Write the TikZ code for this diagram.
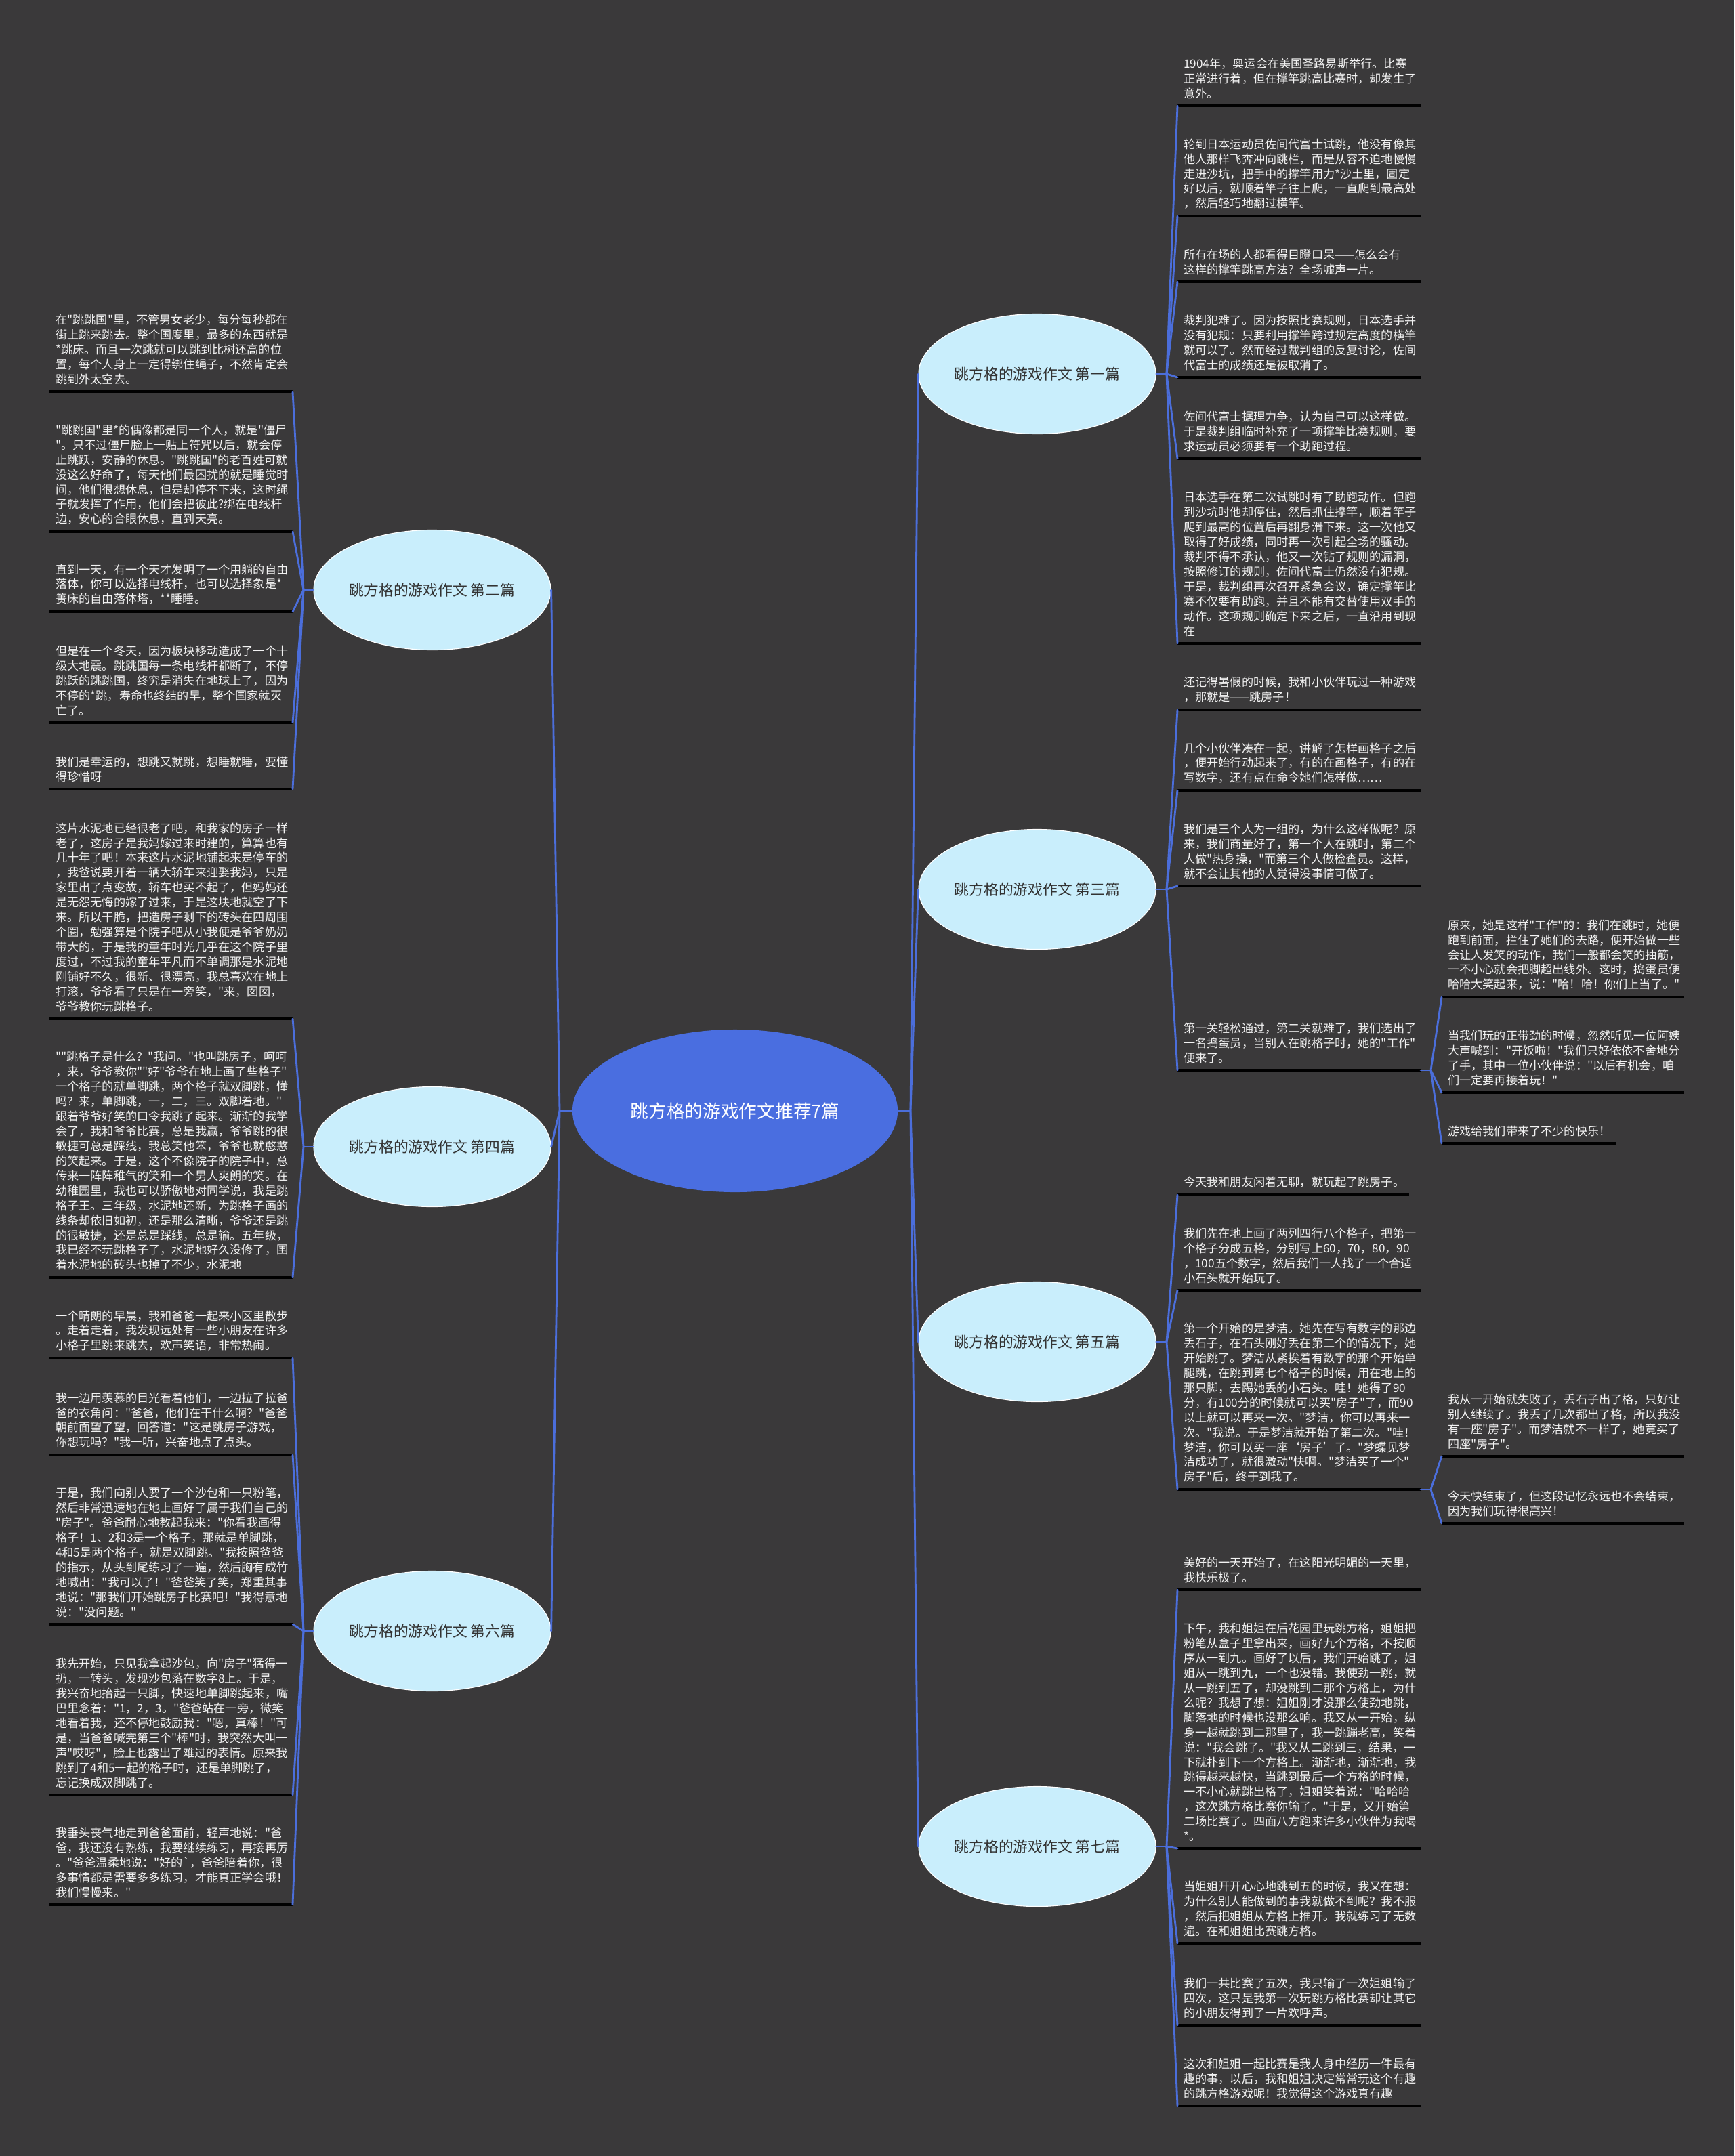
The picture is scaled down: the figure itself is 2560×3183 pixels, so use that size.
\documentclass[tikz,border=0pt]{standalone}
\usepackage{fontspec}
\setmainfont{Noto Sans CJK SC}[Ligatures=TeXOff]
\usetikzlibrary{shapes.geometric}
\definecolor{bgcol}{HTML}{3A393A}
\definecolor{conncol}{HTML}{4B6EDB}
\definecolor{rootfill}{HTML}{4A6EE0}
\definecolor{brfill}{HTML}{C9EEFC}
\definecolor{brtext}{HTML}{333333}
\definecolor{leaftxt}{HTML}{F2F2F2}
\tikzset{
  link/.style={draw=conncol, line width=2pt, line join=round, line cap=round},
  uline/.style={draw=black, line width=2.2pt},
  leaftext/.style={anchor=south west, inner sep=0pt, align=left, text=leaftxt, font=\fontsize{12.2}{15.6}\selectfont},
  rootnode/.style={ellipse, fill=rootfill, minimum width=12cm, minimum height=6cm, inner sep=0pt, text=white, font=\fontsize{19}{22}\selectfont},
  branch/.style={ellipse, fill=brfill, draw=white, line width=0.8pt, minimum width=8.75cm, minimum height=4.425cm, inner sep=0pt, text=brtext, font=\fontsize{15.5}{18}\selectfont},
}
% #1 name, #2 x start, #3 x end, #4 underline y, #5 text
\newcommand\mmleaf[5]{%
  \coordinate (#1-s) at (#2,#4);
  \coordinate (#1-e) at (#3,#4);
  \draw[uline] (#1-s) -- (#1-e);
  \node[leaftext] (#1) at ({#2+9},{#4-10}) {#5};
}
\begin{document}
\begin{tikzpicture}[x=0.025cm, y=-0.025cm]
\fill[bgcol] (0,0) rectangle (2560,3183);
\useasboundingbox (0,0) rectangle (2560,3183);

% central and branch nodes
\node[rootnode] (root) at (1085,1640) {跳方格的游戏作文推荐7篇};
\node[branch] (b1) at (1531,552) {跳方格的游戏作文 第一篇};
\node[branch] (b2) at (638,871) {跳方格的游戏作文 第二篇};
\node[branch] (b3) at (1531,1313) {跳方格的游戏作文 第三篇};
\node[branch] (b4) at (638,1693) {跳方格的游戏作文 第四篇};
\node[branch] (b5) at (1531,1981) {跳方格的游戏作文 第五篇};
\node[branch] (b6) at (638,2408) {跳方格的游戏作文 第六篇};
\node[branch] (b7) at (1531,2726) {跳方格的游戏作文 第七篇};

% junctions
\coordinate (lj) at (826,1640);
\coordinate (rj) at (1344,1640);
\coordinate (b1j) at (1722,552);
\coordinate (b3j) at (1722,1313);
\coordinate (b5j) at (1722,1981);
\coordinate (b7j) at (1722,2726);
\coordinate (b2j) at (448,871);
\coordinate (b4j) at (448,1693);
\coordinate (b6j) at (448,2408);
\coordinate (f3j) at (2112,1580);
\coordinate (f5j) at (2112,2199);

% ---- 第一篇
\mmleaf{r11}{1738}{2097}{156}{1904年，奥运会在美国圣路易斯举行。比赛\\正常进行着，但在撑竿跳高比赛时，却发生了\\意外。}
\mmleaf{r12}{1738}{2097}{319}{轮到日本运动员佐间代富士试跳，他没有像其\\他人那样飞奔冲向跳栏，而是从容不迫地慢慢\\走进沙坑，把手中的撑竿用力*沙土里，固定\\好以后，就顺着竿子往上爬，一直爬到最高处\\，然后轻巧地翻过横竿。}
\mmleaf{r13}{1738}{2097}{416}{所有在场的人都看得目瞪口呆——怎么会有\\这样的撑竿跳高方法？全场嘘声一片。}
\mmleaf{r14}{1738}{2097}{557}{裁判犯难了。因为按照比赛规则，日本选手并\\没有犯规：只要利用撑竿跨过规定高度的横竿\\就可以了。然而经过裁判组的反复讨论，佐间\\代富士的成绩还是被取消了。}
\mmleaf{r15}{1738}{2097}{677}{佐间代富士据理力争，认为自己可以这样做。\\于是裁判组临时补充了一项撑竿比赛规则，要\\求运动员必须要有一个助跑过程。}
\mmleaf{r16}{1738}{2097}{950}{日本选手在第二次试跳时有了助跑动作。但跑\\到沙坑时他却停住，然后抓住撑竿，顺着竿子\\爬到最高的位置后再翻身滑下来。这一次他又\\取得了好成绩，同时再一次引起全场的骚动。\\裁判不得不承认，他又一次钻了规则的漏洞，\\按照修订的规则，佐间代富士仍然没有犯规。\\于是，裁判组再次召开紧急会议，确定撑竿比\\赛不仅要有助跑，并且不能有交替使用双手的\\动作。这项规则确定下来之后，一直沿用到现\\在}

% ---- 第三篇
\mmleaf{r31}{1738}{2097}{1048}{还记得暑假的时候，我和小伙伴玩过一种游戏\\，那就是——跳房子！}
\mmleaf{r32}{1738}{2097}{1167}{几个小伙伴凑在一起，讲解了怎样画格子之后\\，便开始行动起来了，有的在画格子，有的在\\写数字，还有点在命令她们怎样做……}
\mmleaf{r33}{1738}{2097}{1308}{我们是三个人为一组的，为什么这样做呢？原\\来，我们商量好了，第一个人在跳时，第二个\\人做"热身操，"而第三个人做检查员。这样，\\就不会让其他的人觉得没事情可做了。}
\mmleaf{r34}{1738}{2097}{1580}{第一关轻松通过，第二关就难了，我们选出了\\一名捣蛋员，当别人在跳格子时，她的"工作"\\便来了。}
\mmleaf{f31}{2128}{2486}{1472}{原来，她是这样"工作"的：我们在跳时，她便\\跑到前面，拦住了她们的去路，便开始做一些\\会让人发笑的动作，我们一般都会笑的抽筋，\\一不小心就会把脚超出线外。这时，捣蛋员便\\哈哈大笑起来，说："哈！哈！你们上当了。"}
\mmleaf{f32}{2128}{2486}{1613}{当我们玩的正带劲的时候，忽然听见一位阿姨\\大声喊到："开饭啦！"我们只好依依不舍地分\\了手，其中一位小伙伴说："以后有机会，咱\\们一定要再接着玩！"}
\mmleaf{f33}{2128}{2385}{1688}{游戏给我们带来了不少的快乐！}

% ---- 第五篇
\mmleaf{r51}{1738}{2080}{1764}{今天我和朋友闲着无聊，就玩起了跳房子。}
\mmleaf{r52}{1738}{2097}{1905}{我们先在地上画了两列四行八个格子，把第一\\个格子分成五格，分别写上60，70，80，90\\，100五个数字，然后我们一人找了一个合适\\小石头就开始玩了。}
\mmleaf{r53}{1738}{2097}{2199}{第一个开始的是梦洁。她先在写有数字的那边\\丢石子，在石头刚好丢在第二个的情况下，她\\开始跳了。梦洁从紧挨着有数字的那个开始单\\腿跳，在跳到第七个格子的时候，用在地上的\\那只脚，去踢她丢的小石头。哇！她得了90\\分，有100分的时候就可以买"房子"了，而90\\以上就可以再来一次。"梦洁，你可以再来一\\次。"我说。于是梦洁就开始了第二次。"哇！\\梦洁，你可以买一座‘房子’了。"梦蝶见梦\\洁成功了，就很激动"快啊。"梦洁买了一个"\\房子"后，终于到我了。}
\mmleaf{f51}{2128}{2486}{2150}{我从一开始就失败了，丢石子出了格，只好让\\别人继续了。我丢了几次都出了格，所以我没\\有一座"房子"。而梦洁就不一样了，她竟买了\\四座"房子"。}
\mmleaf{f52}{2128}{2486}{2249}{今天快结束了，但这段记忆永远也不会结束，\\因为我们玩得很高兴！}

% ---- 第七篇
\mmleaf{r71}{1738}{2097}{2347}{美好的一天开始了，在这阳光明媚的一天里，\\我快乐极了。}
\mmleaf{r72}{1738}{2097}{2729}{下午，我和姐姐在后花园里玩跳方格，姐姐把\\粉笔从盒子里拿出来，画好九个方格，不按顺\\序从一到九。画好了以后，我们开始跳了，姐\\姐从一跳到九，一个也没错。我使劲一跳，就\\从一跳到五了，却没跳到二那个方格上，为什\\么呢？我想了想：姐姐刚才没那么使劲地跳，\\脚落地的时候也没那么响。我又从一开始，纵\\身一越就跳到二那里了，我一跳蹦老高，笑着\\说："我会跳了。"我又从二跳到三，结果，一\\下就扑到下一个方格上。渐渐地，渐渐地，我\\跳得越来越快，当跳到最后一个方格的时候，\\一不小心就跳出格了，姐姐笑着说："哈哈哈\\，这次跳方格比赛你输了。"于是，又开始第\\二场比赛了。四面八方跑来许多小伙伴为我喝\\{}*。}
\mmleaf{r73}{1738}{2097}{2869}{当姐姐开开心心地跳到五的时候，我又在想：\\为什么别人能做到的事我就做不到呢？我不服\\，然后把姐姐从方格上推开。我就练习了无数\\遍。在和姐姐比赛跳方格。}
\mmleaf{r74}{1738}{2097}{2990}{我们一共比赛了五次，我只输了一次姐姐输了\\四次，这只是我第一次玩跳方格比赛却让其它\\的小朋友得到了一片欢呼声。}
\mmleaf{r75}{1738}{2097}{3109}{这次和姐姐一起比赛是我人身中经历一件最有\\趣的事，以后，我和姐姐决定常常玩这个有趣\\的跳方格游戏呢！我觉得这个游戏真有趣}

% ---- 第二篇
\mmleaf{l21}{73}{432}{578}{在"跳跳国"里，不管男女老少，每分每秒都在\\街上跳来跳去。整个国度里，最多的东西就是\\{}*跳床。而且一次跳就可以跳到比树还高的位\\置，每个人身上一定得绑住绳子，不然肯定会\\跳到外太空去。}
\mmleaf{l22}{73}{432}{785}{"跳跳国"里*的偶像都是同一个人，就是"僵尸\\"。只不过僵尸脸上一贴上符咒以后，就会停\\止跳跃，安静的休息。"跳跳国"的老百姓可就\\没这么好命了，每天他们最困扰的就是睡觉时\\间，他们很想休息，但是却停不下来，这时绳\\子就发挥了作用，他们会把彼此?绑在电线杆\\边，安心的合眼休息，直到天亮。}
\mmleaf{l23}{73}{432}{903}{直到一天，有一个天才发明了一个用躺的自由\\落体，你可以选择电线杆，也可以选择象是*\\篑床的自由落体塔，**睡睡。}
\mmleaf{l24}{73}{432}{1067}{但是在一个冬天，因为板块移动造成了一个十\\级大地震。跳跳国每一条电线杆都断了，不停\\跳跃的跳跳国，终究是消失在地球上了，因为\\不停的*跳，寿命也终结的早，整个国家就灭\\亡了。}
\mmleaf{l25}{73}{432}{1165}{我们是幸运的，想跳又就跳，想睡就睡，要懂\\得珍惜呀}

% ---- 第四篇
\mmleaf{l41}{73}{432}{1504}{这片水泥地已经很老了吧，和我家的房子一样\\老了，这房子是我妈嫁过来时建的，算算也有\\几十年了吧！本来这片水泥地铺起来是停车的\\，我爸说要开着一辆大轿车来迎娶我妈，只是\\家里出了点变故，轿车也买不起了，但妈妈还\\是无怨无悔的嫁了过来，于是这块地就空了下\\来。所以干脆，把造房子剩下的砖头在四周围\\个圈，勉强算是个院子吧从小我便是爷爷奶奶\\带大的，于是我的童年时光几乎在这个院子里\\度过，不过我的童年平凡而不单调那是水泥地\\刚铺好不久，很新、很漂亮，我总喜欢在地上\\打滚，爷爷看了只是在一旁笑，"来，囡囡，\\爷爷教你玩跳格子。}
\mmleaf{l42}{73}{432}{1886}{""跳格子是什么？"我问。"也叫跳房子，呵呵\\，来，爷爷教你""好"爷爷在地上画了些格子"\\一个格子的就单脚跳，两个格子就双脚跳，懂\\吗？来，单脚跳，一，二，三。双脚着地。"\\跟着爷爷好笑的口令我跳了起来。渐渐的我学\\会了，我和爷爷比赛，总是我赢，爷爷跳的很\\敏捷可总是踩线，我总笑他笨，爷爷也就憨憨\\的笑起来。于是，这个不像院子的院子中，总\\传来一阵阵稚气的笑和一个男人爽朗的笑。在\\幼稚园里，我也可以骄傲地对同学说，我是跳\\格子王。三年级，水泥地还新，为跳格子画的\\线条却依旧如初，还是那么清晰，爷爷还是跳\\的很敏捷，还是总是踩线，总是输。五年级，\\我已经不玩跳格子了，水泥地好久没修了，围\\着水泥地的砖头也掉了不少，水泥地}

% ---- 第六篇
\mmleaf{l61}{73}{432}{2005}{一个晴朗的早晨，我和爸爸一起来小区里散步\\。走着走着，我发现远处有一些小朋友在许多\\小格子里跳来跳去，欢声笑语，非常热闹。}
\mmleaf{l62}{73}{432}{2148}{我一边用羡慕的目光看着他们，一边拉了拉爸\\爸的衣角问："爸爸，他们在干什么啊？"爸爸\\朝前面望了望，回答道："这是跳房子游戏，\\你想玩吗？"我一听，兴奋地点了点头。}
\mmleaf{l63}{73}{432}{2398}{于是，我们向别人要了一个沙包和一只粉笔，\\然后非常迅速地在地上画好了属于我们自己的\\"房子"。爸爸耐心地教起我来："你看我画得\\格子！1、2和3是一个格子，那就是单脚跳，\\4和5是两个格子，就是双脚跳。"我按照爸爸\\的指示，从头到尾练习了一遍，然后胸有成竹\\地喊出："我可以了！"爸爸笑了笑，郑重其事\\地说："那我们开始跳房子比赛吧！"我得意地\\说："没问题。"}
\mmleaf{l64}{73}{432}{2650}{我先开始，只见我拿起沙包，向"房子"猛得一\\扔，一转头，发现沙包落在数字8上。于是，\\我兴奋地抬起一只脚，快速地单脚跳起来，嘴\\巴里念着："1，2，3。"爸爸站在一旁，微笑\\地看着我，还不停地鼓励我："嗯，真棒！"可\\是，当爸爸喊完第三个"棒"时，我突然大叫一\\声"哎呀"，脸上也露出了难过的表情。原来我\\跳到了4和5一起的格子时，还是单脚跳了，\\忘记换成双脚跳了。}
\mmleaf{l65}{73}{432}{2812}{我垂头丧气地走到爸爸面前，轻声地说："爸\\爸，我还没有熟练，我要继续练习，再接再厉\\。"爸爸温柔地说："好的\symbol{96}，爸爸陪着你，很\\多事情都是需要多多练习，才能真正学会哦！\\我们慢慢来。"}

% ---- connectors: root to branches
\draw[link] (root.east) -- (rj);
\draw[link] (root.west) -- (lj);
\foreach \b in {b1,b3,b5,b7} \draw[link] (rj) -- (\b.west);
\foreach \b in {b2,b4,b6} \draw[link] (lj) -- (\b.east);

% branch stubs
\draw[link] (b1.east) -- (b1j);
\draw[link] (b3.east) -- (b3j);
\draw[link] (b5.east) -- (b5j);
\draw[link] (b7.east) -- (b7j);
\draw[link] (b2.west) -- (b2j);
\draw[link] (b4.west) -- (b4j);
\draw[link] (b6.west) -- (b6j);

% branch to leaves
\foreach \l in {r11,r12,r13,r14,r15,r16} \draw[link] (b1j) -- (\l-s);
\foreach \l in {r31,r32,r33,r34} \draw[link] (b3j) -- (\l-s);
\foreach \l in {r51,r52,r53} \draw[link] (b5j) -- (\l-s);
\foreach \l in {r71,r72,r73,r74,r75} \draw[link] (b7j) -- (\l-s);
\foreach \l in {l21,l22,l23,l24,l25} \draw[link] (b2j) -- (\l-e);
\foreach \l in {l41,l42} \draw[link] (b4j) -- (\l-e);
\foreach \l in {l61,l62,l63,l64,l65} \draw[link] (b6j) -- (\l-e);

% second-level sub-leaves
\draw[link] (r34-e) -- (f3j);
\foreach \l in {f31,f32,f33} \draw[link] (f3j) -- (\l-s);
\draw[link] (r53-e) -- (f5j);
\foreach \l in {f51,f52} \draw[link] (f5j) -- (\l-s);
\end{tikzpicture}
\end{document}
